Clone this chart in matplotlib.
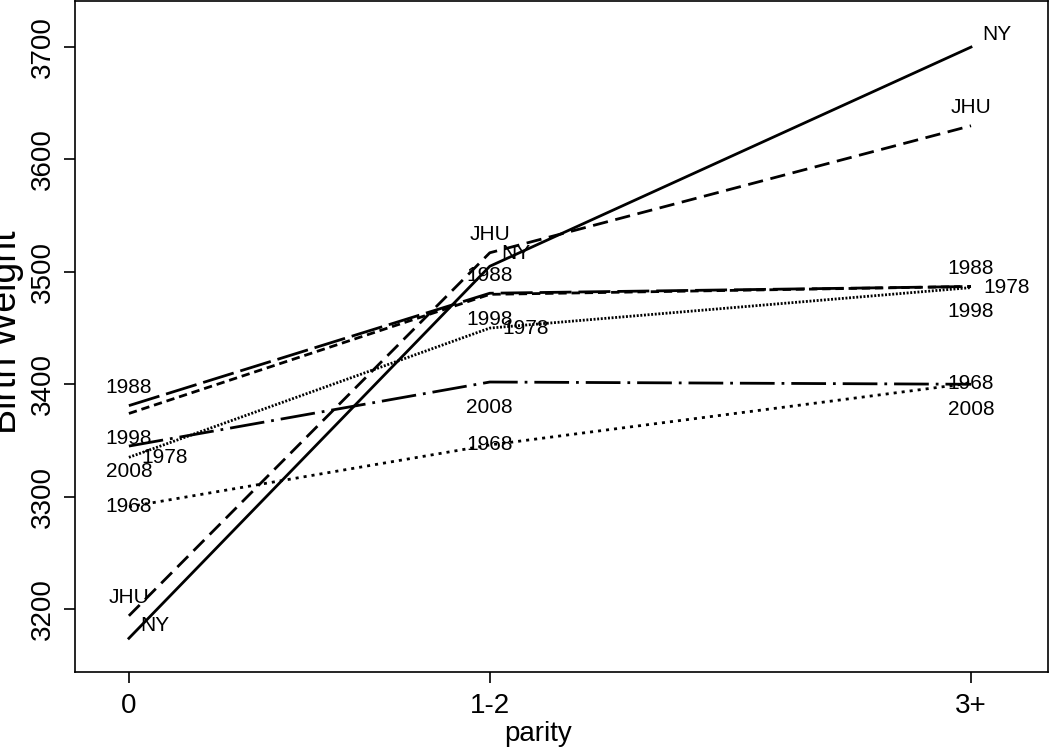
import matplotlib
matplotlib.use("Agg")
import matplotlib.pyplot as plt

plt.rcParams['font.family'] = ['Liberation Sans', 'DejaVu Sans']
plt.rcParams['lines.scale_dashes'] = False

# --- data ---
parity_labels = ["0", "1-2", "3+"]
parity_x = [0, 1.5, 3.5]

series_names = ["NY", "JHU", "1968", "1978", "1988", "1998", "2008"]
ny = [3174, 3505, 3700]
jhu = [3194, 3517, 3630]
y1968 = [3291, 3346, 3401]
y1978 = [3335, 3450, 3486]
y1988 = [3381, 3481, 3487]
y1998 = [3374, 3480, 3487]
y2008 = [3345, 3402, 3400]
series_values = [ny, jhu, y1968, y1978, y1988, y1998, y2008]

# line styles (dash patterns in points)
styles = {
    "NY": "-",
    "JHU": (0, (11, 5.5)),
    "1968": (0, (2.2, 3.6)),
    "1978": (0, (1.4, 1.2)),
    "1988": (0, (23, 5)),
    "1998": (0, (6, 3.5)),
    "2008": (0, (25, 5, 2, 5)),
}
# where the label sits relative to each point: c=on, a=above, b=below, r=right, n=right+up
label_pos = {
    "NY": "n", "JHU": "a", "1968": "c", "1978": "r",
    "1988": "a", "1998": "b", "2008": "b",
}
OFFSETS = {
    "c": (0, 0, "center"),
    "a": (0, 13, "center"),
    "b": (0, -18, "center"),
    "r": (9, 0, "left"),
    "n": (8, 9, "left"),
}

fig = plt.figure(figsize=(10.5, 7.48), dpi=100)
ax = fig.add_axes([75 / 1050, 1 - 672 / 748, 973 / 1050, 671 / 748])

for name, vals in zip(series_names, series_values):
    ax.plot(parity_x, vals, color="black", linewidth=2.0, linestyle=styles[name])
    dx, dy, ha = OFFSETS[label_pos[name]]
    for x, y in zip(parity_x, vals):
        ax.annotate(name, (x, y), xytext=(dx, dy), textcoords="offset points",
                    ha=ha, va="center", fontsize=15, color="black")

ax.set_xlim(-0.224, 3.82)
ax.set_ylim(3144, 3741)
ax.set_xticks(parity_x)
ax.set_xticklabels(parity_labels)
ax.set_yticks([3200, 3300, 3400, 3500, 3600, 3700])
ax.tick_params(axis="both", labelsize=20, length=8, width=1.2, direction="out")
ax.tick_params(axis="x", pad=7)
ax.tick_params(axis="y", pad=6)
for lab in ax.get_yticklabels():
    lab.set_rotation(90)
    lab.set_va("center")
for sp in ax.spines.values():
    sp.set_linewidth(1.2)

ax.set_xlabel("parity", fontsize=20)
ax.xaxis.set_label_coords(0.476, -0.073)
ax.set_ylabel("Birth Weight", fontsize=27)
ax.yaxis.set_label_coords(-0.052, 0.507)

fig.savefig("out.png", dpi=100)
